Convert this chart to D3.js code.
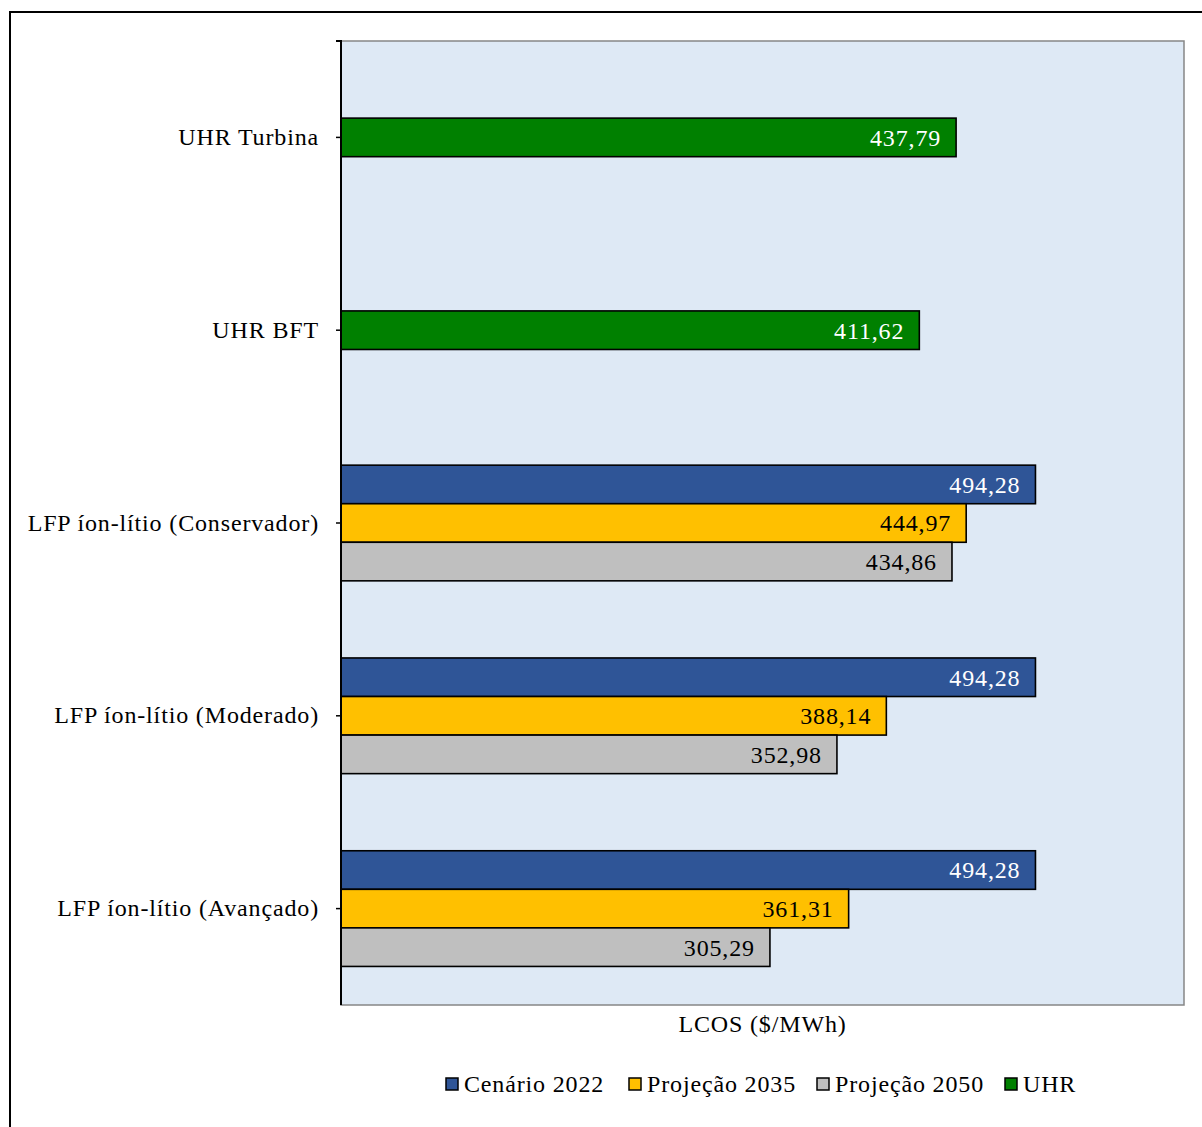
<!DOCTYPE html>
<html>
<head>
<meta charset="utf-8">
<script src="https://cdn.jsdelivr.net/npm/d3@7/dist/d3.min.js"></script>
<style>
  html, body { margin: 0; padding: 0; background: #fff; }
  svg { display: block; }
  text { font-family: "Liberation Serif", "DejaVu Serif", serif; letter-spacing: 0.85px; }
</style>
</head>
<body>
<svg id="chart" width="1202" height="1127"></svg>
<script>
// Storage technologies (top to bottom)
const categories = [
  "UHR Turbina",
  "UHR BFT",
  "LFP íon-lítio (Conservador)",
  "LFP íon-lítio (Moderado)",
  "LFP íon-lítio (Avançado)"
];

// LCOS values in $/MWh per series (null = not applicable)
const cenario2022  = [null, null, 494.28, 494.28, 494.28];
const projecao2035 = [null, null, 444.97, 388.14, 361.31];
const projecao2050 = [null, null, 434.86, 352.98, 305.29];
const uhr          = [437.79, 411.62, null, null, null];

const seriesNames  = ["Cenário 2022", "Projeção 2035", "Projeção 2050", "UHR"];
const seriesColors = ["#2F5597", "#FFC000", "#BFBFBF", "#008000"];
const labelColors  = ["#ffffff", "#000000", "#000000", "#ffffff"];
const seriesValues = [cenario2022, projecao2035, projecao2050, uhr];

const xDomain = [0, 600];
const axisTitle = "LCOS ($/MWh)";

const fmt = v => d3.format(".2f")(v).replace(".", ",");
const FS = 24;

const svg = d3.select("#chart");

// outer frame
svg.append("rect")
  .attr("x", 10).attr("y", 12)
  .attr("width", 1220).attr("height", 1140)
  .attr("fill", "#fff").attr("stroke", "#000").attr("stroke-width", 2);

const plot = { left: 341, right: 1184, top: 41, bottom: 1005 };

const x = d3.scaleLinear().domain(xDomain).range([plot.left, plot.right]);
const y = d3.scaleBand().domain(categories).range([plot.top, plot.bottom]);

// plot background
svg.append("rect")
  .attr("x", plot.left).attr("y", plot.top)
  .attr("width", plot.right - plot.left).attr("height", plot.bottom - plot.top)
  .attr("fill", "#DEE9F5")
  .attr("stroke", "#868686").attr("stroke-width", 1.5);

// bars: series present in each category are stacked vertically, centred on the band
const barH = y.bandwidth() * 0.2;
const bars = [];
categories.forEach((cat, ci) => {
  const present = seriesValues
    .map((vals, si) => ({ si, v: vals[ci] }))
    .filter(d => d.v != null);
  const y0 = y(cat) + y.bandwidth() / 2 - present.length * barH / 2;
  present.forEach((d, k) => bars.push({ cat, si: d.si, v: d.v, y: y0 + k * barH }));
});

const g = svg.append("g");
g.selectAll("rect.bar").data(bars).join("rect")
  .attr("class", "bar")
  .attr("x", x(0))
  .attr("y", d => d.y)
  .attr("width", d => x(d.v) - x(0))
  .attr("height", barH)
  .attr("fill", d => seriesColors[d.si])
  .attr("stroke", "#000").attr("stroke-width", 1.6);

g.selectAll("text.val").data(bars).join("text")
  .attr("class", "val")
  .attr("x", d => x(d.v) - 15)
  .attr("y", d => d.y + barH / 2)
  .attr("dy", "0.35em")
  .attr("text-anchor", "end")
  .attr("font-size", FS)
  .attr("fill", d => labelColors[d.si])
  .text(d => fmt(d.v));

// category axis
const yAxis = d3.axisLeft(y).tickSize(5).tickPadding(17);
const ya = svg.append("g")
  .attr("transform", `translate(${plot.left},0)`)
  .call(yAxis);
ya.select(".domain").attr("stroke", "#000").attr("stroke-width", 2)
  .attr("d", `M-5,${plot.top}H0V${plot.bottom}`);
ya.selectAll(".tick line").attr("stroke", "#000").attr("stroke-width", 1.5);
ya.selectAll(".tick text")
  .attr("font-size", FS)
  .attr("fill", "#000")
  .style("font-family", '"Liberation Serif", "DejaVu Serif", serif');

// axis title
svg.append("text")
  .attr("x", (plot.left + plot.right) / 2)
  .attr("y", 1032)
  .attr("text-anchor", "middle")
  .attr("font-size", FS)
  .text(axisTitle);

// legend
const legendX = [446, 629, 817, 1005];
const lg = svg.append("g");
seriesNames.forEach((name, i) => {
  lg.append("rect")
    .attr("x", legendX[i]).attr("y", 1078)
    .attr("width", 12).attr("height", 12)
    .attr("fill", seriesColors[i])
    .attr("stroke", "#000").attr("stroke-width", 1.5);
  lg.append("text")
    .attr("x", legendX[i] + 18).attr("y", 1084)
    .attr("dy", "0.35em")
    .attr("font-size", FS)
    .text(name);
});
</script>
</body>
</html>
